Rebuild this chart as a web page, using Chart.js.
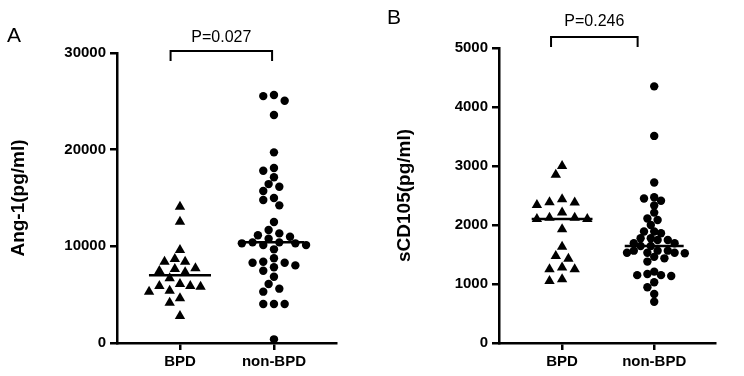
<!DOCTYPE html>
<html>
<head>
<meta charset="utf-8">
<script src="https://cdn.jsdelivr.net/npm/chart.js@4.4.1/dist/chart.umd.min.js"></script>
<style>
  body { margin: 0; background: #fff; }
  .panel { position: absolute; top: 0; width: 372px; height: 376px; }
  #panelA { left: 0; }
  #panelB { left: 372px; }
</style>
</head>
<body>
<div class="panel" id="panelA"><canvas id="chartA"></canvas></div>
<div class="panel" id="panelB"><canvas id="chartB"></canvas></div>
<script>
const groups = ["BPD", "non-BPD"];

// Ang-1 (pg/ml)
const angBPD = [14100, 12550, 9620, 8690, 8410, 8410, 7720, 7650, 7450, 7310,
  6690, 6100, 5900, 5900, 5830, 5410, 5310, 4620, 4170, 2790];
const angNonBPD = [25650, 25540, 25060, 23580, 19720, 18100, 17820, 17140, 16440, 16170,
  15720, 15000, 14790, 14240, 12510, 11690, 11340, 11140, 10990, 10790,
  10410, 10410, 10310, 10310, 10130, 10130, 9690, 8760, 8400, 8300,
  8300, 8030, 7830, 7480, 6860, 6100, 5620, 5310, 4030, 4030, 4030, 380];

// sCD105 (pg/ml)
const cdBPD = [3000, 2850, 2435, 2385, 2380, 2340, 2210, 2125, 2125, 2100,
  2100, 1930, 1630, 1475, 1430, 1280, 1250, 1250, 1080, 1050];
const cdNonBPD = [4350, 3510, 2720, 2470, 2450, 2410, 2330, 2210, 2110, 2085,
  2000, 1890, 1890, 1860, 1775, 1775, 1745, 1745, 1690, 1690,
  1645, 1645, 1565, 1565, 1565, 1530, 1530, 1530, 1520, 1460,
  1435, 1380, 1210, 1170, 1150, 1150, 1135, 1030, 945, 830, 700];

const yTicksA = [0, 10000, 20000, 30000];
const yTicksB = [0, 1000, 2000, 3000, 4000, 5000];
const pValueA = "P=0.027";
const pValueB = "P=0.246";

function median(arr) {
  const s = [...arr].sort((a, b) => a - b);
  const m = Math.floor(s.length / 2);
  return s.length % 2 ? s[m] : (s[m - 1] + s[m]) / 2;
}

// scatter dot plot: push points sideways (on a fixed step) until they stop overlapping
function swarm(values, center, xs, ys, d, step) {
  const order = values.map((v, i) => i).sort((a, b) => values[b] - values[a]);
  const cands = [0];
  for (let k = 1; k < 30; k++) cands.push(-k * step, k * step);
  const placed = [];
  const offs = [];
  order.forEach(i => {
    const py = ys.getPixelForValue(values[i]);
    let off = 0;
    for (const c of cands) {
      if (placed.every(p => (p.x - c) ** 2 + (p.y - py) ** 2 >= d * d)) { off = c; break; }
    }
    offs[i] = off;
    placed.push({ x: off, y: py });
  });
  const cx = xs.getPixelForValue(center);
  return values.map((v, i) => ({ x: xs.getValueForPixel(cx + offs[i]), y: v }));
}

const bracketPlugin = {
  id: "bracket",
  afterDraw(chart, args, o) {
    const ctx = chart.ctx;
    const xs = chart.scales.x;
    const x1 = xs.getPixelForValue(o.from), x2 = xs.getPixelForValue(o.to);
    ctx.save();
    ctx.strokeStyle = "#000";
    ctx.lineWidth = 2;
    ctx.beginPath();
    ctx.moveTo(x1, o.y + 10);
    ctx.lineTo(x1, o.y);
    ctx.lineTo(x2, o.y);
    ctx.lineTo(x2, o.y + 10);
    ctx.stroke();
    ctx.fillStyle = "#000";
    ctx.font = "16px 'Liberation Sans', Arial, sans-serif";
    ctx.textAlign = "center";
    ctx.textBaseline = "middle";
    ctx.fillText(o.text, (x1 + x2) / 2, o.textY);
    ctx.restore();
  }
};

const letterPlugin = {
  id: "letter",
  afterDraw(chart, args, o) {
    const ctx = chart.ctx;
    ctx.save();
    ctx.fillStyle = "#000";
    ctx.font = "21px 'Liberation Sans', Arial, sans-serif";
    ctx.textBaseline = "top";
    ctx.fillText(o.text, o.x, o.y);
    ctx.restore();
  }
};

const boldFont = { family: "'Liberation Sans', Arial, sans-serif", weight: "bold", size: 15 };
const axisGrid = { display: true, drawOnChartArea: false, drawTicks: true, tickLength: 7, color: "#000", lineWidth: 2.5 };
const axisBorder = { display: true, color: "#000", width: 2.5 };

function makePanel(id, cfg) {
  const med1 = median(cfg.g1), med2 = median(cfg.g2);
  const chart = new Chart(document.getElementById(id), {
    type: "scatter",
    data: {
      datasets: [
        { data: cfg.g1.map(v => ({ x: 1, y: v })), pointStyle: "triangle", pointRadius: 6,
          backgroundColor: "#000", borderColor: "#000", borderWidth: 0 },
        { data: cfg.g2.map(v => ({ x: 2, y: v })), pointStyle: "circle", pointRadius: 4.2,
          backgroundColor: "#000", borderColor: "#000", borderWidth: 0 },
        { type: "line", data: [{ x: 0.67, y: med1 }, { x: 1.33, y: med1 }],
          borderColor: "#000", borderWidth: 2.5, pointRadius: 0 },
        { type: "line", data: [{ x: 1.68, y: med2 }, { x: 2.32, y: med2 }],
          borderColor: "#000", borderWidth: 2.5, pointRadius: 0 }
      ]
    },
    options: {
      responsive: true,
      maintainAspectRatio: false,
      animation: false,
      layout: { padding: cfg.padding },
      plugins: {
        legend: { display: false },
        tooltip: { enabled: false },
        bracket: cfg.bracket,
        letter: cfg.letter
      },
      scales: {
        x: {
          type: "linear",
          min: cfg.xMin,
          max: cfg.xMax,
          grid: axisGrid,
          border: axisBorder,
          afterBuildTicks: s => { s.ticks = [{ value: 1 }, { value: 2 }]; },
          afterFit: s => { s.height = 33; },
          ticks: { color: "#000", font: boldFont, padding: 3, callback: v => groups[v - 1] }
        },
        y: {
          min: 0,
          max: cfg.yTicks[cfg.yTicks.length - 1],
          grid: axisGrid,
          border: axisBorder,
          afterBuildTicks: s => { s.ticks = cfg.yTicks.map(v => ({ value: v })); },
          afterFit: s => { s.width = cfg.yWidth; },
          ticks: { color: "#000", font: boldFont, padding: 4, callback: v => String(v) },
          title: { display: true, text: cfg.yTitle, color: "#000",
            font: { family: "'Liberation Sans', Arial, sans-serif", weight: "bold", size: 19 },
            padding: { top: cfg.titlePad, bottom: 0 } }
        }
      }
    },
    plugins: [bracketPlugin, letterPlugin]
  });
  const xs = chart.scales.x, ys = chart.scales.y;
  chart.data.datasets[0].data = swarm(cfg.g1, 1, xs, ys, cfg.d1, cfg.step1);
  chart.data.datasets[1].data = swarm(cfg.g2, 2, xs, ys, cfg.d2, cfg.step2);
  chart.update("none");
  return chart;
}

makePanel("chartA", {
  g1: angBPD, g2: angNonBPD, yTicks: yTicksA, yTitle: "Ang-1(pg/ml)",
  yWidth: 117, xMin: 0.33, xMax: 2.66, titlePad: 7,
  d1: 9.5, step1: 5.15, d2: 8, step2: 5.35,
  padding: { top: 53, right: 36, bottom: 0, left: 0 },
  bracket: { from: 0.9, to: 1.98, y: 51, textY: 38, text: pValueA },
  letter: { text: "A", x: 7, y: 26 }
});

makePanel("chartB", {
  g1: cdBPD, g2: cdNonBPD, yTicks: yTicksB, yTitle: "sCD105(pg/ml)",
  yWidth: 127, xMin: 0.315, xMax: 2.66, titlePad: 21,
  d1: 10, step1: 6.3, d2: 7, step2: 3.4,
  padding: { top: 48, right: 29, bottom: 0, left: 0 },
  bracket: { from: 0.88, to: 1.82, y: 37, textY: 22, text: pValueB },
  letter: { text: "B", x: 15, y: 8 }
});
</script>
</body>
</html>
